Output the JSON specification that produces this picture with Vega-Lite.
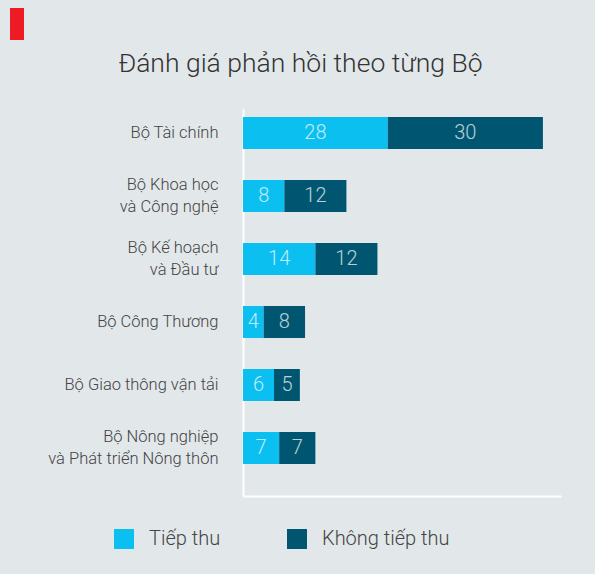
{
  "$schema": "https://vega.github.io/schema/vega-lite/v6.json",
  "background": "#e2e7ea",
  "padding": {"left": 7, "top": 5, "right": 34, "bottom": 28},
  "config": {
    "font": "Roboto",
    "view": {"stroke": null}
  },
  "spacing": 10,
  "align": "each",
  "bounds": "full",
  "columns": 2,
  "concat": [
    {
      "width": 14,
      "height": 32,
      "view": {"fill": "#ed1c24", "stroke": null},
      "data": {"values": [{}]},
      "mark": {"type": "point", "opacity": 0},
      "encoding": {}
    },
    {
      "width": 1,
      "height": 1,
      "data": {"values": [{}]},
      "mark": {"type": "point", "opacity": 0},
      "encoding": {}
    },
    {
      "width": 1,
      "height": 1,
      "data": {"values": [{}]},
      "mark": {"type": "point", "opacity": 0},
      "encoding": {}
    },
    {
      "width": 318,
      "height": 387,
      "title": {
        "text": "Đánh giá phản hồi theo từng Bộ",
        "fontSize": 26.5,
        "fontWeight": 300,
        "color": "#333333",
        "anchor": "middle",
        "frame": "bounds",
        "offset": 32,
        "dx": 3
      },
      "data": {
        "values": [
          {"bo": "Bộ Tài chính", "loai": "Tiếp thu", "so": 28},
          {"bo": "Bộ Tài chính", "loai": "Không tiếp thu", "so": 30},
          {"bo": "Bộ Khoa học\nvà Công nghệ", "loai": "Tiếp thu", "so": 8},
          {"bo": "Bộ Khoa học\nvà Công nghệ", "loai": "Không tiếp thu", "so": 12},
          {"bo": "Bộ Kế hoạch\nvà Đầu tư", "loai": "Tiếp thu", "so": 14},
          {"bo": "Bộ Kế hoạch\nvà Đầu tư", "loai": "Không tiếp thu", "so": 12},
          {"bo": "Bộ Công Thương", "loai": "Tiếp thu", "so": 4},
          {"bo": "Bộ Công Thương", "loai": "Không tiếp thu", "so": 8},
          {"bo": "Bộ Giao thông vận tải", "loai": "Tiếp thu", "so": 6},
          {"bo": "Bộ Giao thông vận tải", "loai": "Không tiếp thu", "so": 5},
          {"bo": "Bộ Nông nghiệp\nvà Phát triển Nông thôn", "loai": "Tiếp thu", "so": 7},
          {"bo": "Bộ Nông nghiệp\nvà Phát triển Nông thôn", "loai": "Không tiếp thu", "so": 7}
        ]
      },
      "transform": [
        {"stack": "so", "groupby": ["bo"], "sort": [{"field": "loai", "order": "descending"}], "as": ["x0", "x1"]},
        {"calculate": "(datum.x0 + datum.x1) / 2", "as": "mid"}
      ],
      "encoding": {
        "y": {
          "field": "bo",
          "type": "nominal",
          "sort": ["Bộ Tài chính", "Bộ Khoa học\nvà Công nghệ", "Bộ Kế hoạch\nvà Đầu tư", "Bộ Công Thương", "Bộ Giao thông vận tải", "Bộ Nông nghiệp\nvà Phát triển Nông thôn"],
          "scale": {"paddingInner": 0.492, "paddingOuter": 0.3175, "align": 0.2},
          "axis": {
            "title": null,
            "ticks": false,
            "domain": true,
            "domainColor": "#ffffff",
            "domainWidth": 2,
            "labelPadding": 25,
            "labelFont": "Roboto",
            "labelFontWeight": 300,
            "labelFontSize": 16.5,
            "labelColor": "#444444",
            "labelLineHeight": 22,
            "labelExpr": "split(datum.label, '\\n')",
            "labelOffset": {"condition": {"test": "indexof(datum.label, '\\n') >= 0", "value": -11}, "value": 0},
            "minExtent": 209
          }
        }
      },
      "layer": [
        {
          "mark": {"type": "bar"},
          "encoding": {
            "x": {
              "field": "x0",
              "type": "quantitative",
              "scale": {"domain": [0, 61.5], "nice": false},
              "axis": {"title": null, "labels": false, "ticks": false, "grid": false, "domain": true, "domainColor": "#ffffff", "domainWidth": 2}
            },
            "x2": {"field": "x1"},
            "color": {
              "field": "loai",
              "type": "nominal",
              "scale": {"domain": ["Tiếp thu", "Không tiếp thu"], "range": ["#0bbff0", "#005570"]},
              "legend": {
                "title": null,
                "orient": "none",
                "legendX": 104,
                "legendY": 521,
                "direction": "horizontal",
                "symbolType": "square",
                "symbolSize": 400,
                "symbolStrokeWidth": 0,
                "symbolOpacity": 1,
                "labelFontSize": 20,
                "labelFont": "Roboto",
                "labelFontWeight": 300,
                "labelColor": "#444444",
                "labelOffset": 15,
                "columnPadding": 66,
                "padding": 0
              }
            }
          }
        },
        {
          "mark": {"type": "text", "fontSize": 20, "fontWeight": 300, "color": "#ffffff", "opacity": 0.72, "baseline": "middle", "align": "center"},
          "encoding": {
            "x": {"field": "mid", "type": "quantitative"},
            "text": {"field": "so", "type": "quantitative"}
          }
        }
      ]
    }
  ]
}
